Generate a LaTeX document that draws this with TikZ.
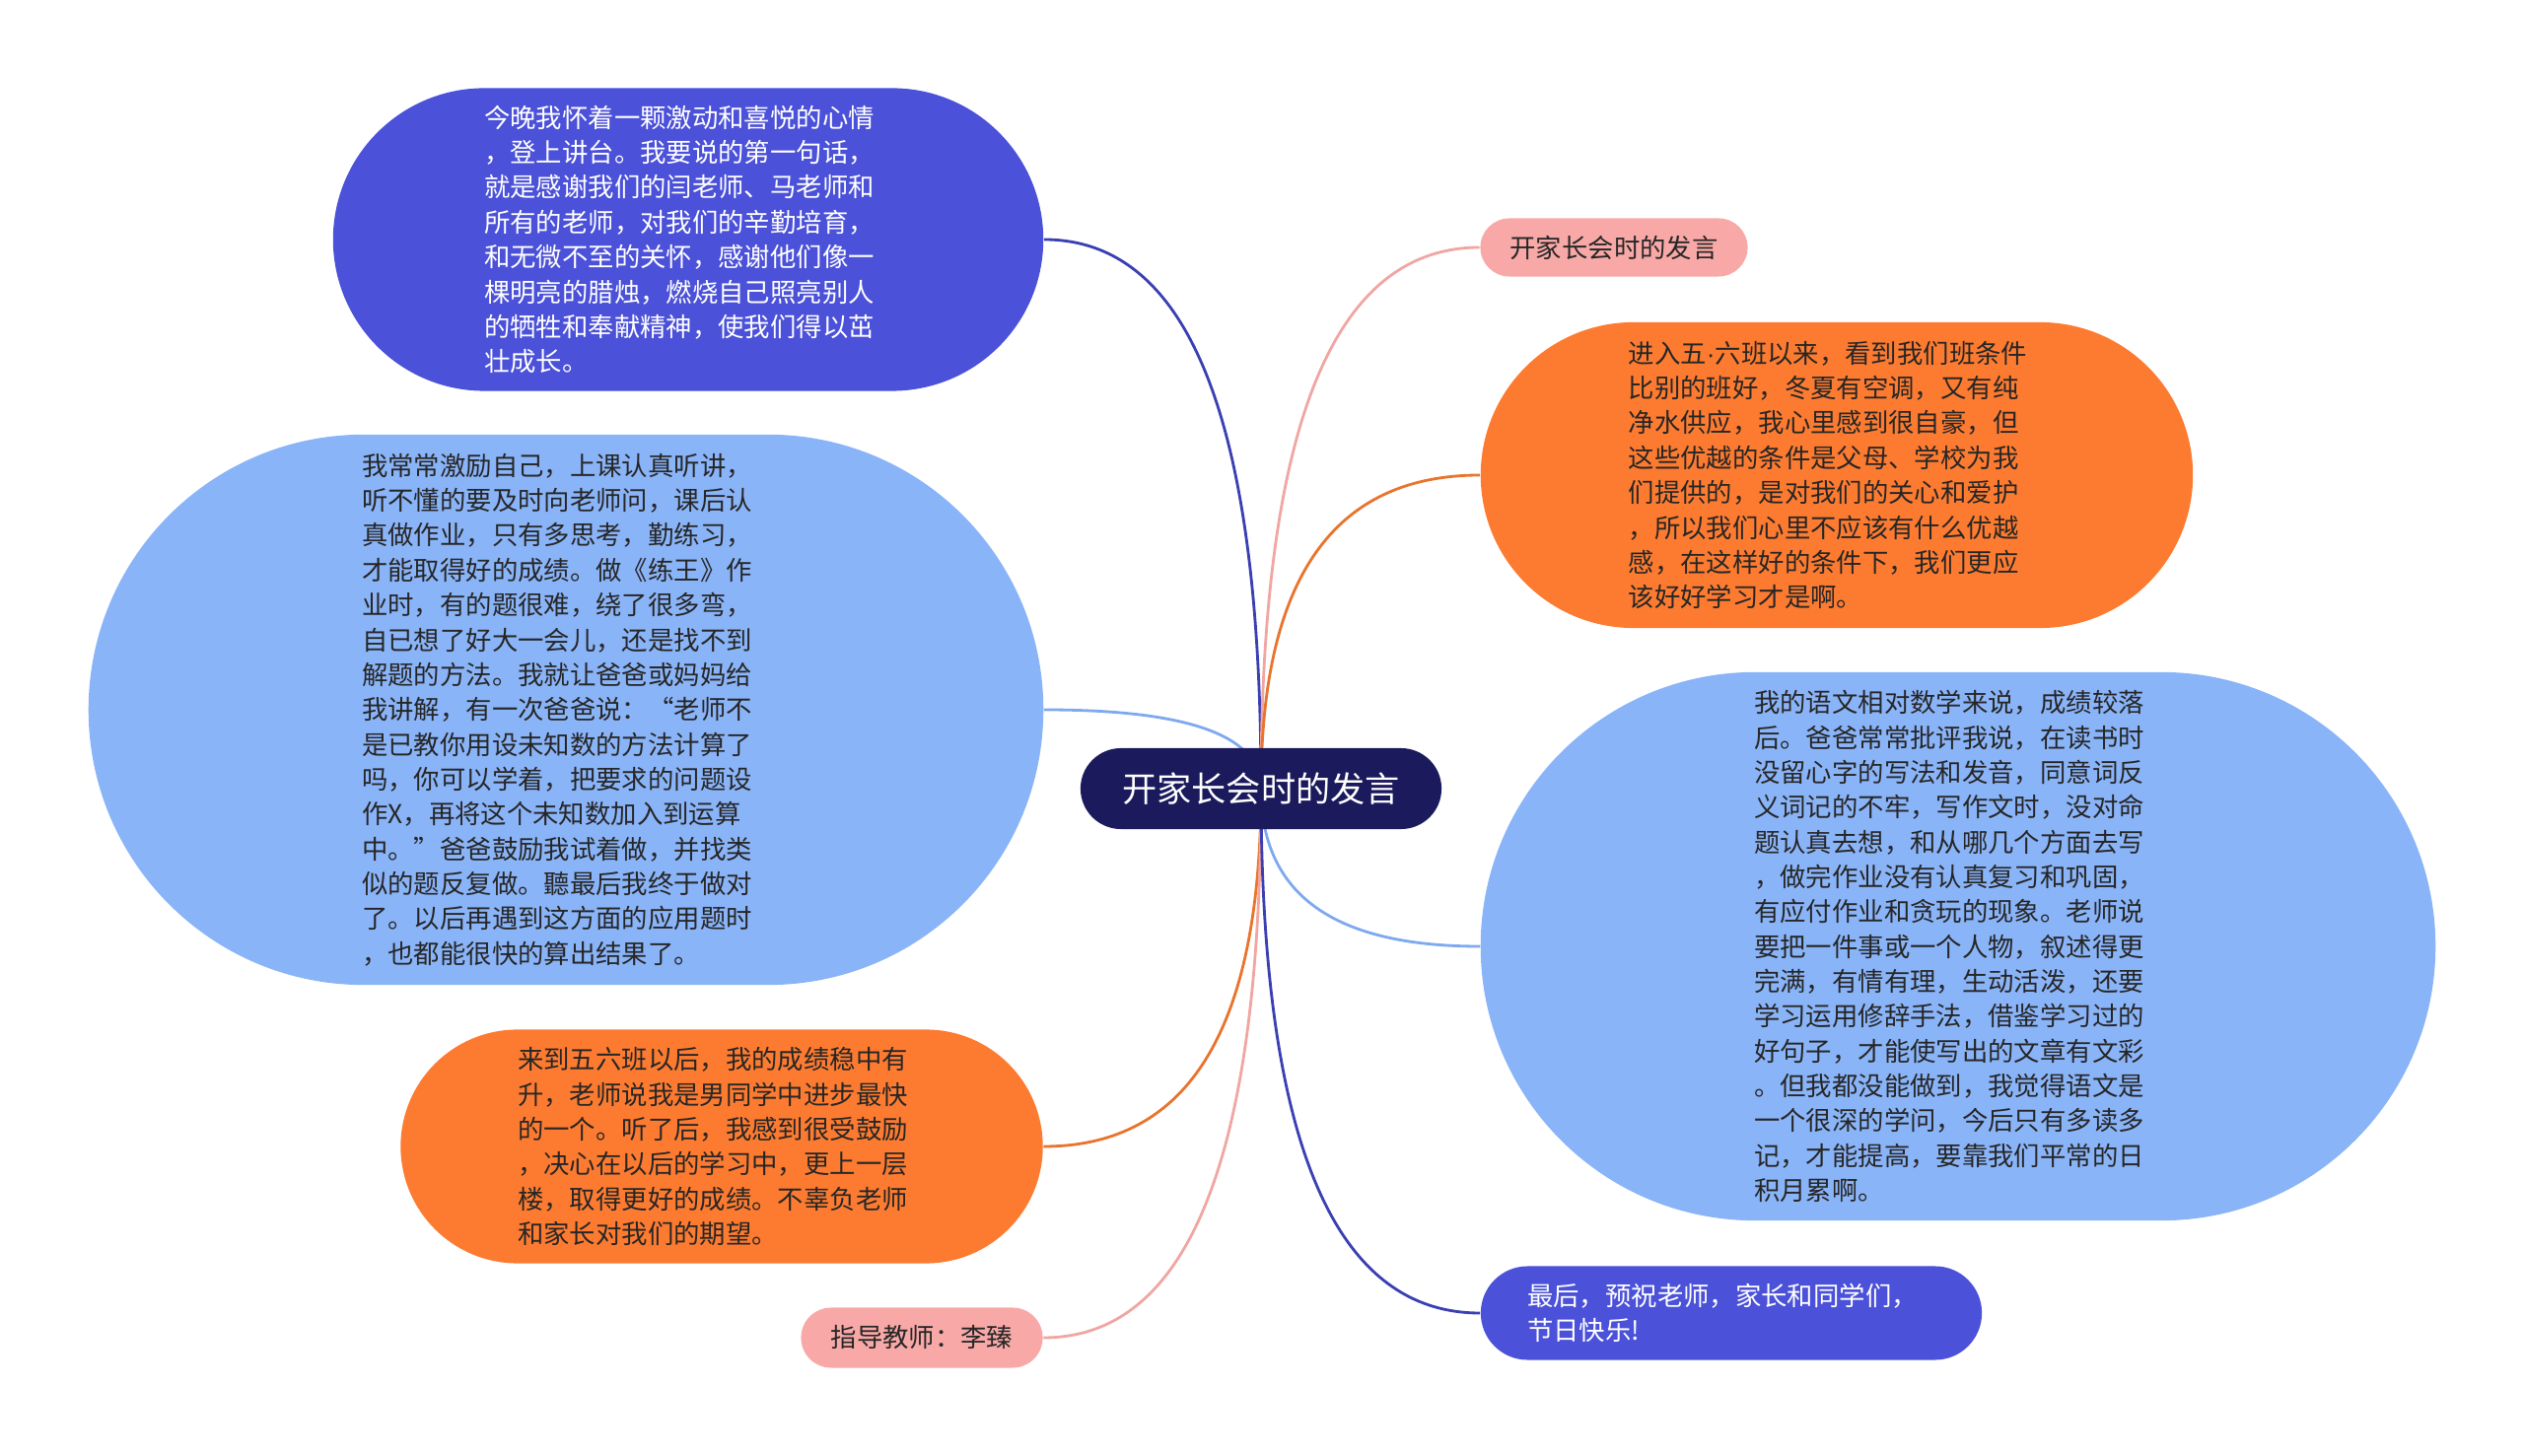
\documentclass[tikz,border=0pt]{standalone}
\usepackage{fontspec}
\newfontfamily\cjk{Noto Sans CJK SC}
\newfontfamily\latin{Liberation Sans}
\usetikzlibrary{calc,backgrounds}

\definecolor{mmNavy}{HTML}{1B1A5C}
\definecolor{mmViolet}{HTML}{4B51D8}
\definecolor{mmSky}{HTML}{8AB4F8}
\definecolor{mmOrange}{HTML}{FD7B30}
\definecolor{mmPink}{HTML}{F8A9A7}
\definecolor{lnViolet}{HTML}{3A3FB2}
\definecolor{lnSky}{HTML}{7FA9EE}
\definecolor{lnOrange}{HTML}{E8742E}
\definecolor{lnPink}{HTML}{F0A6A2}

\tikzset{
  hub/.style={fill=mmNavy, text=white, minimum width=3.66cm, minimum height=0.82cm,
    rounded corners=0.41cm, inner sep=0pt, font=\cjk\fontsize{10pt}{12pt}\selectfont},
  leaf/.style n args={3}{fill=#1, minimum width=#2, minimum height=#3, rounded corners=#3/2,
    inner sep=0pt, align=left, text=black!85, font=\cjk\fontsize{7.5pt}{10.05pt}\selectfont},
  link/.style={line width=0.8pt,
    to path={.. controls ($(\tikztostart)!0.67!(\tikztostart|-\tikztotarget)$)
      and ($(\tikztotarget)!0.67!(\tikztostart|-\tikztotarget)$) .. (\tikztotarget)}}
}

\begin{document}
\begin{tikzpicture}[x=0.01cm,y=-0.01cm]
\useasboundingbox (0,0) rectangle (2560,1477);

% centre
\node[hub] (root) at (1279,800) {开家长会时的发言};

% left side
\node[leaf={mmViolet}{7.20cm}{3.07cm}, text=white] (thanks) at (698,243) {今晚我怀着一颗激动和喜悦的心情\hspace*{0.18cm}\\，登上讲台。我要说的第一句话，\\就是感谢我们的闫老师、马老师和\\所有的老师，对我们的辛勤培育，\\和无微不至的关怀，感谢他们像一\\棵明亮的腊烛，燃烧自己照亮别人\\的牺牲和奉献精神，使我们得以茁\\壮成长。};
\node[leaf={mmSky}{9.68cm}{5.58cm}] (effort) at (574,720) {我常常激励自己，上课认真听讲，\hspace*{0.18cm}\\听不懂的要及时向老师问，课后认\\真做作业，只有多思考，勤练习，\\才能取得好的成绩。做《练王》作\\业时，有的题很难，绕了很多弯，\\自已想了好大一会儿，还是找不到\\解题的方法。我就让爸爸或妈妈给\\我讲解，有一次爸爸说：“老师不\\是已教你用设未知数的方法计算了\\吗，你可以学着，把要求的问题设\\作X，再将这个未知数加入到运算\\中。”爸爸鼓励我试着做，并找类\\似的题反复做。聽最后我终于做对\\了。以后再遇到这方面的应用题时\\，也都能很快的算出结果了。};
\node[leaf={mmOrange}{6.51cm}{2.37cm}] (progress) at (732,1163) {来到五六班以后，我的成绩稳中有\hspace*{0.18cm}\\升，老师说我是男同学中进步最快\\的一个。听了后，我感到很受鼓励\\，决心在以后的学习中，更上一层\\楼，取得更好的成绩。不辜负老师\\和家长对我们的期望。};
\node[leaf={mmPink}{2.45cm}{0.61cm}] (teacher) at (935,1357) {指导教师：李臻};

% right side
\node[leaf={mmPink}{2.71cm}{0.59cm}] (title) at (1637,251) {开家长会时的发言};
\node[leaf={mmOrange}{7.22cm}{3.10cm}] (pride) at (1863,482) {进入五{\latin ·}六班以来，看到我们班条件\hspace*{0.18cm}\\比别的班好，冬夏有空调，又有纯\\净水供应，我心里感到很自豪，但\\这些优越的条件是父母、学校为我\\们提供的，是对我们的关心和爱护\\，所以我们心里不应该有什么优越\\感，在这样好的条件下，我们更应\\该好好学习才是啊。};
\node[leaf={mmSky}{9.68cm}{5.56cm}] (chinese) at (1986,960) {我的语文相对数学来说，成绩较落\hspace*{0.18cm}\\后。爸爸常常批评我说，在读书时\\没留心字的写法和发音，同意词反\\义词记的不牢，写作文时，没对命\\题认真去想，和从哪几个方面去写\\，做完作业没有认真复习和巩固，\\有应付作业和贪玩的现象。老师说\\要把一件事或一个人物，叙述得更\\完满，有情有理，生动活泼，还要\\学习运用修辞手法，借鉴学习过的\\好句子，才能使写出的文章有文彩\\。但我都没能做到，我觉得语文是\\一个很深的学问，今后只有多读多\\记，才能提高，要靠我们平常的日\\积月累啊。};
\node[leaf={mmViolet}{5.08cm}{0.95cm}, text=white] (wishes) at (1756,1332) {最后，预祝老师，家长和同学们，\hspace*{0.18cm}\\节日快乐!};

% branches
\begin{scope}[on background layer]
\draw[link, lnViolet] (root.center) to (thanks.east);
\draw[link, lnSky] (root.center) to (effort.east);
\draw[link, lnOrange] (root.center) to (progress.east);
\draw[link, lnPink] (root.center) to (teacher.east);
\draw[link, lnPink] (root.center) to (title.west);
\draw[link, lnOrange] (root.center) to (pride.west);
\draw[link, lnSky] (root.center) to (chinese.west);
\draw[link, lnViolet] (root.center) to (wishes.west);
\end{scope}
\end{tikzpicture}
\end{document}
